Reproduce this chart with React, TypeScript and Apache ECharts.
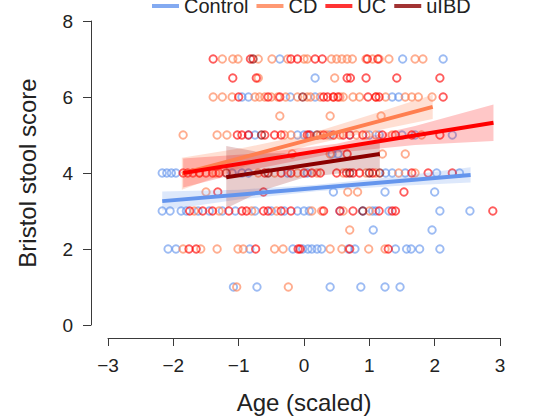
import { useEffect, useRef } from "react";
import * as echarts from "echarts";

// Groups, in legend order, and their colours
const groups = ["Control", "CD", "UC", "uIBD"];
const groupColors = ["#6495ED", "#FF7F50", "#FF0000", "#8B0000"];
const pointColors = [
  "rgba(100,149,237,0.8)",
  "rgba(255,127,80,0.8)",
  "rgba(255,0,0,0.8)",
  "rgba(139,0,0,0.8)",
];
const bandColors = [
  "rgba(100,149,237,0.22)",
  "rgba(255,127,80,0.25)",
  "rgba(255,0,0,0.22)",
  "rgba(139,0,0,0.2)",
];

// Axis ranges and tick steps
const xRange = [-3, 3];
const xStep = 1;
const yRange = [0, 8];
const yStep = 2;

// Observations: [age (scaled), Bristol stool score]
const controlPoints: [number, number][] = [
  [-0.37, 7], [1.51, 7], [2.13, 7],
  [0.17, 6.5],
  [-0.95, 6], [-0.85, 6], [-0.21, 6], [0.17, 6], [1.35, 6], [1.45, 6],
  [-0.85, 5], [-0.75, 5], [-0.1, 5], [0.0, 5], [0.1, 5], [0.4, 5], [0.7, 5], [1.0, 5], [1.15, 5], [1.5, 5], [1.7, 5], [2.27, 5],
  [0.43, 4.5], [0.52, 4.5],
  [-2.17, 4], [-2.1, 4], [-2.03, 4], [-1.96, 4], [-1.1, 4], [-0.95, 4], [-0.85, 4], [-0.25, 4], [0.05, 4], [1.25, 4], [1.35, 4], [1.55, 4], [2.03, 4], [2.38, 4],
  [0.45, 3.5], [1.24, 3.5], [2.0, 3.5],
  [-2.17, 3], [-2.05, 3], [-1.88, 3], [-1.8, 3], [-1.62, 3], [-1.45, 3], [-1.25, 3], [-1.05, 3], [-0.75, 3], [-0.5, 3], [-0.3, 3], [-0.1, 3], [0.0, 3], [0.08, 3], [0.55, 3], [0.9, 3], [1.05, 3], [1.1, 3], [1.3, 3], [2.08, 3], [2.54, 3],
  [1.06, 2.5], [1.96, 2.5],
  [-2.08, 2], [-1.96, 2], [-0.83, 2], [-0.17, 2], [-0.02, 2], [0.06, 2], [0.12, 2], [0.2, 2], [0.27, 2], [0.68, 2], [0.78, 2], [1.4, 2], [1.57, 2], [1.64, 2], [1.77, 2], [2.08, 2],
  [-1.08, 1], [-0.72, 1], [0.4, 1], [0.87, 1], [1.24, 1], [1.47, 1],
];

const cdPoints: [number, number][] = [
  [-1.25, 7], [-1.09, 7], [-1.01, 7], [-0.7, 7], [-0.49, 7], [-0.25, 7], [0.0, 7], [0.05, 7], [0.42, 7], [0.5, 7], [0.58, 7], [0.66, 7], [0.74, 7], [0.95, 7], [1.05, 7], [1.15, 7], [1.3, 7], [1.7, 7], [1.82, 7],
  [-0.7, 6.5], [0.47, 6.5],
  [-1.39, 6], [-1.25, 6], [-1.1, 6], [-0.75, 6], [-0.68, 6], [-0.6, 6], [-0.5, 6], [-0.4, 6], [-0.28, 6], [-0.1, 6], [0.05, 6], [0.1, 6], [0.25, 6], [0.45, 6], [0.55, 6], [0.6, 6], [0.75, 6], [0.85, 6], [1.1, 6], [1.25, 6], [1.55, 6], [1.65, 6], [1.75, 6], [1.96, 6],
  [-0.37, 5.5], [0.4, 5.5], [1.18, 5.5],
  [-1.85, 5], [-1.33, 5], [-1.18, 5], [-0.3, 5], [-0.2, 5], [0.25, 5], [0.35, 5], [0.55, 5], [0.8, 5], [0.95, 5], [1.1, 5], [1.35, 5], [1.8, 5],
  [-0.18, 4.5], [0.4, 4.5], [1.2, 4.5], [1.55, 4.5],
  [-1.6, 4], [-1.35, 4], [-0.7, 4], [-0.45, 4], [-0.1, 4], [0.2, 4], [0.6, 4], [0.95, 4], [1.1, 4], [1.45, 4], [1.7, 4],
  [-1.5, 3.5], [0.67, 3.5], [0.82, 3.5],
  [-1.68, 3], [-1.3, 3], [-0.8, 3], [-0.42, 3], [0.12, 3], [0.27, 3], [0.6, 3], [1.0, 3],
  [0.7, 2.5],
  [-1.85, 2], [-1.58, 2], [-1.33, 2], [-1.01, 2], [-0.93, 2], [-0.45, 2], [-0.32, 2], [0.4, 2], [0.58, 2], [0.99, 2], [1.24, 2],
  [-1.03, 1], [-0.24, 1],
];

const ucPoints: [number, number][] = [
  [-1.39, 7], [-0.82, 7], [-0.2, 7], [-0.1, 7], [0.17, 7], [0.28, 7], [0.97, 7], [1.13, 7],
  [-1.09, 6.5], [-0.73, 6.5], [0.66, 6.5], [0.71, 6.5], [0.95, 6.5], [1.42, 6.5], [2.08, 6.5],
  [-1.0, 6], [-0.55, 6], [-0.37, 6], [0.3, 6], [0.36, 6], [0.45, 6], [0.52, 6], [0.98, 6], [1.1, 6], [1.15, 6], [2.13, 6],
  [-1.02, 5], [-0.95, 5], [-0.85, 5], [-0.6, 5], [-0.45, 5], [-0.35, 5], [0.05, 5], [0.08, 5], [0.3, 5], [0.45, 5], [0.6, 5], [0.7, 5], [0.9, 5], [1.2, 5], [1.4, 5], [1.65, 5], [2.08, 5],
  [0.66, 4.5],
  [-1.85, 4], [-1.78, 4], [-1.7, 4], [-1.6, 4], [-1.5, 4], [-1.4, 4], [-1.3, 4], [-0.6, 4], [-0.35, 4], [-0.2, 4], [0.0, 4], [0.12, 4], [0.25, 4], [0.5, 4], [0.65, 4], [0.75, 4], [0.85, 4], [1.05, 4], [1.65, 4], [1.9, 4], [2.27, 4],
  [-1.32, 3.5], [-0.62, 3.5], [1.53, 3.5],
  [-1.75, 3], [-1.55, 3], [-1.4, 3], [-1.15, 3], [-0.95, 3], [-0.88, 3], [-0.62, 3], [-0.55, 3], [-0.35, 3], [-0.2, 3], [0.3, 3], [0.55, 3], [0.75, 3], [1.15, 3], [1.35, 3], [1.4, 3], [2.89, 3],
  [-1.76, 2], [-1.65, 2], [-0.74, 2], [-0.09, 2], [-0.06, 2], [0.7, 2], [1.29, 2],
];

const uibdPoints: [number, number][] = [
  [-0.78, 7],
  [-0.02, 6],
  [-0.65, 5], [0.2, 5],
  [-1.19, 4], [-0.55, 4], [0.7, 4], [1.0, 4], [1.16, 4],
  [0.9, 3],
];

// Fitted lines: [x, y] at the ends of each group's age range
const controlFit: [number, number][] = [[-2.17, 3.26], [2.55, 3.95]];
const cdFit: [number, number][] = [[-1.87, 3.98], [1.97, 5.74]];
const ucFit: [number, number][] = [[-1.85, 4.0], [2.9, 5.32]];
const uibdFit: [number, number][] = [[-1.19, 3.89], [1.16, 4.5]];

// Confidence bands: [x, lower, upper]
const controlBand: [number, number, number][] = [
  [-2.17, 3.01, 3.51], [-1.0, 3.3, 3.56], [0.19, 3.52, 3.69], [1.4, 3.66, 3.9], [2.55, 3.75, 4.15],
];
const cdBand: [number, number, number][] = [
  [-1.87, 3.56, 4.4], [-0.9, 4.17, 4.67], [0.05, 4.71, 5.01], [1.0, 5.08, 5.52], [1.97, 5.42, 6.06],
];
const ucBand: [number, number, number][] = [
  [-1.85, 3.62, 4.38], [-0.7, 4.12, 4.52], [0.5, 4.53, 4.77], [1.7, 4.74, 5.24], [2.9, 4.84, 5.8],
];
const uibdBand: [number, number, number][] = [
  [-1.19, 3.07, 4.71], [-0.6, 3.56, 4.52], [0.0, 3.88, 4.52], [0.6, 4.0, 4.7], [1.16, 4.12, 4.88],
];

const allPoints = [controlPoints, cdPoints, ucPoints, uibdPoints];
const allFits = [controlFit, cdFit, ucFit, uibdFit];
const allBands = [controlBand, cdBand, ucBand, uibdBand];

const FONT = "'Liberation Sans', Arial, sans-serif";
const TEXT = "#222";
const AXIS = "#3a3a3a";

const minus = (v: number) => String(v).replace("-", "\u2212");

function bandSeries(name: string, band: [number, number, number][], fill: string) {
  return {
    name,
    type: "custom",
    silent: true,
    z: 3,
    data: band,
    encode: { x: 0, y: [1, 2] },
    renderItem: (params: any, api: any) => {
      if (params.dataIndex !== 0) return null;
      const upper = band.map(([x, , hi]) => api.coord([x, hi]));
      const lower = band.map(([x, lo]) => api.coord([x, lo])).reverse();
      return {
        type: "polygon",
        shape: { points: [...upper, ...lower] },
        style: { fill, stroke: "none" },
      };
    },
  };
}

export default function App() {
  const ref = useRef<HTMLDivElement>(null);

  useEffect(() => {
    if (!ref.current) return;
    const chart = echarts.init(ref.current, undefined, { renderer: "svg" });

    const scatter = groups.map((g, i) => ({
      name: g,
      type: "scatter",
      z: 2,
      data: allPoints[i],
      symbol: "circle",
      symbolSize: 7.5,
      itemStyle: { color: "rgba(0,0,0,0)", borderColor: pointColors[i], borderWidth: 1.9 },
      emphasis: { disabled: true },
    }));
    const bands = groups.map((g, i) => bandSeries(g, allBands[i], bandColors[i]));
    const lines = groups.map((g, i) => ({
      name: g,
      type: "line",
      z: 4,
      data: allFits[i],
      symbol: "none",
      lineStyle: { color: groupColors[i], width: 4 },
      itemStyle: { color: groupColors[i] },
      emphasis: { disabled: true },
    }));

    const axisCommon = {
      type: "value",
      nameLocation: "middle",
      nameGap: 52,
      nameTextStyle: { fontSize: 24, color: TEXT, fontFamily: FONT },
      axisLine: { show: true, onZero: false, lineStyle: { color: AXIS, width: 1 } },
      axisTick: { show: true, inside: false, length: 8, lineStyle: { color: AXIS } },
      axisLabel: { fontSize: 19, color: TEXT, margin: 18, formatter: minus, fontFamily: FONT },
      splitLine: { show: false },
    };

    chart.setOption({
      animation: false,
      backgroundColor: "#fff",
      textStyle: { fontFamily: FONT },
      grid: {
        left: 108,
        right: 33,
        top: 21,
        bottom: 93,
        containLabel: false,
        outerBoundsMode: "none",
      },
      legend: {
        left: 147,
        top: -9,
        itemWidth: 27,
        itemHeight: 4,
        itemGap: 8,
        selectedMode: false,
        textStyle: { fontSize: 20, color: TEXT, fontFamily: FONT },
        data: groups.map((g, i) => ({
          name: g,
          icon: "rect",
          itemStyle: { color: groupColors[i], borderWidth: 0 },
        })),
      },
      xAxis: {
        ...axisCommon,
        min: xRange[0],
        max: xRange[1],
        interval: xStep,
        offset: 13,
        name: "Age (scaled)",
      },
      yAxis: {
        ...axisCommon,
        min: yRange[0],
        max: yRange[1],
        interval: yStep,
        offset: 17,
        name: "Bristol stool score",
      },
      series: [...scatter, ...bands, ...lines],
    });

    return () => chart.dispose();
  }, []);

  return (
    <div
      ref={ref}
      style={{ position: "fixed", left: 0, top: 0, width: 533, height: 418 }}
    />
  );
}
